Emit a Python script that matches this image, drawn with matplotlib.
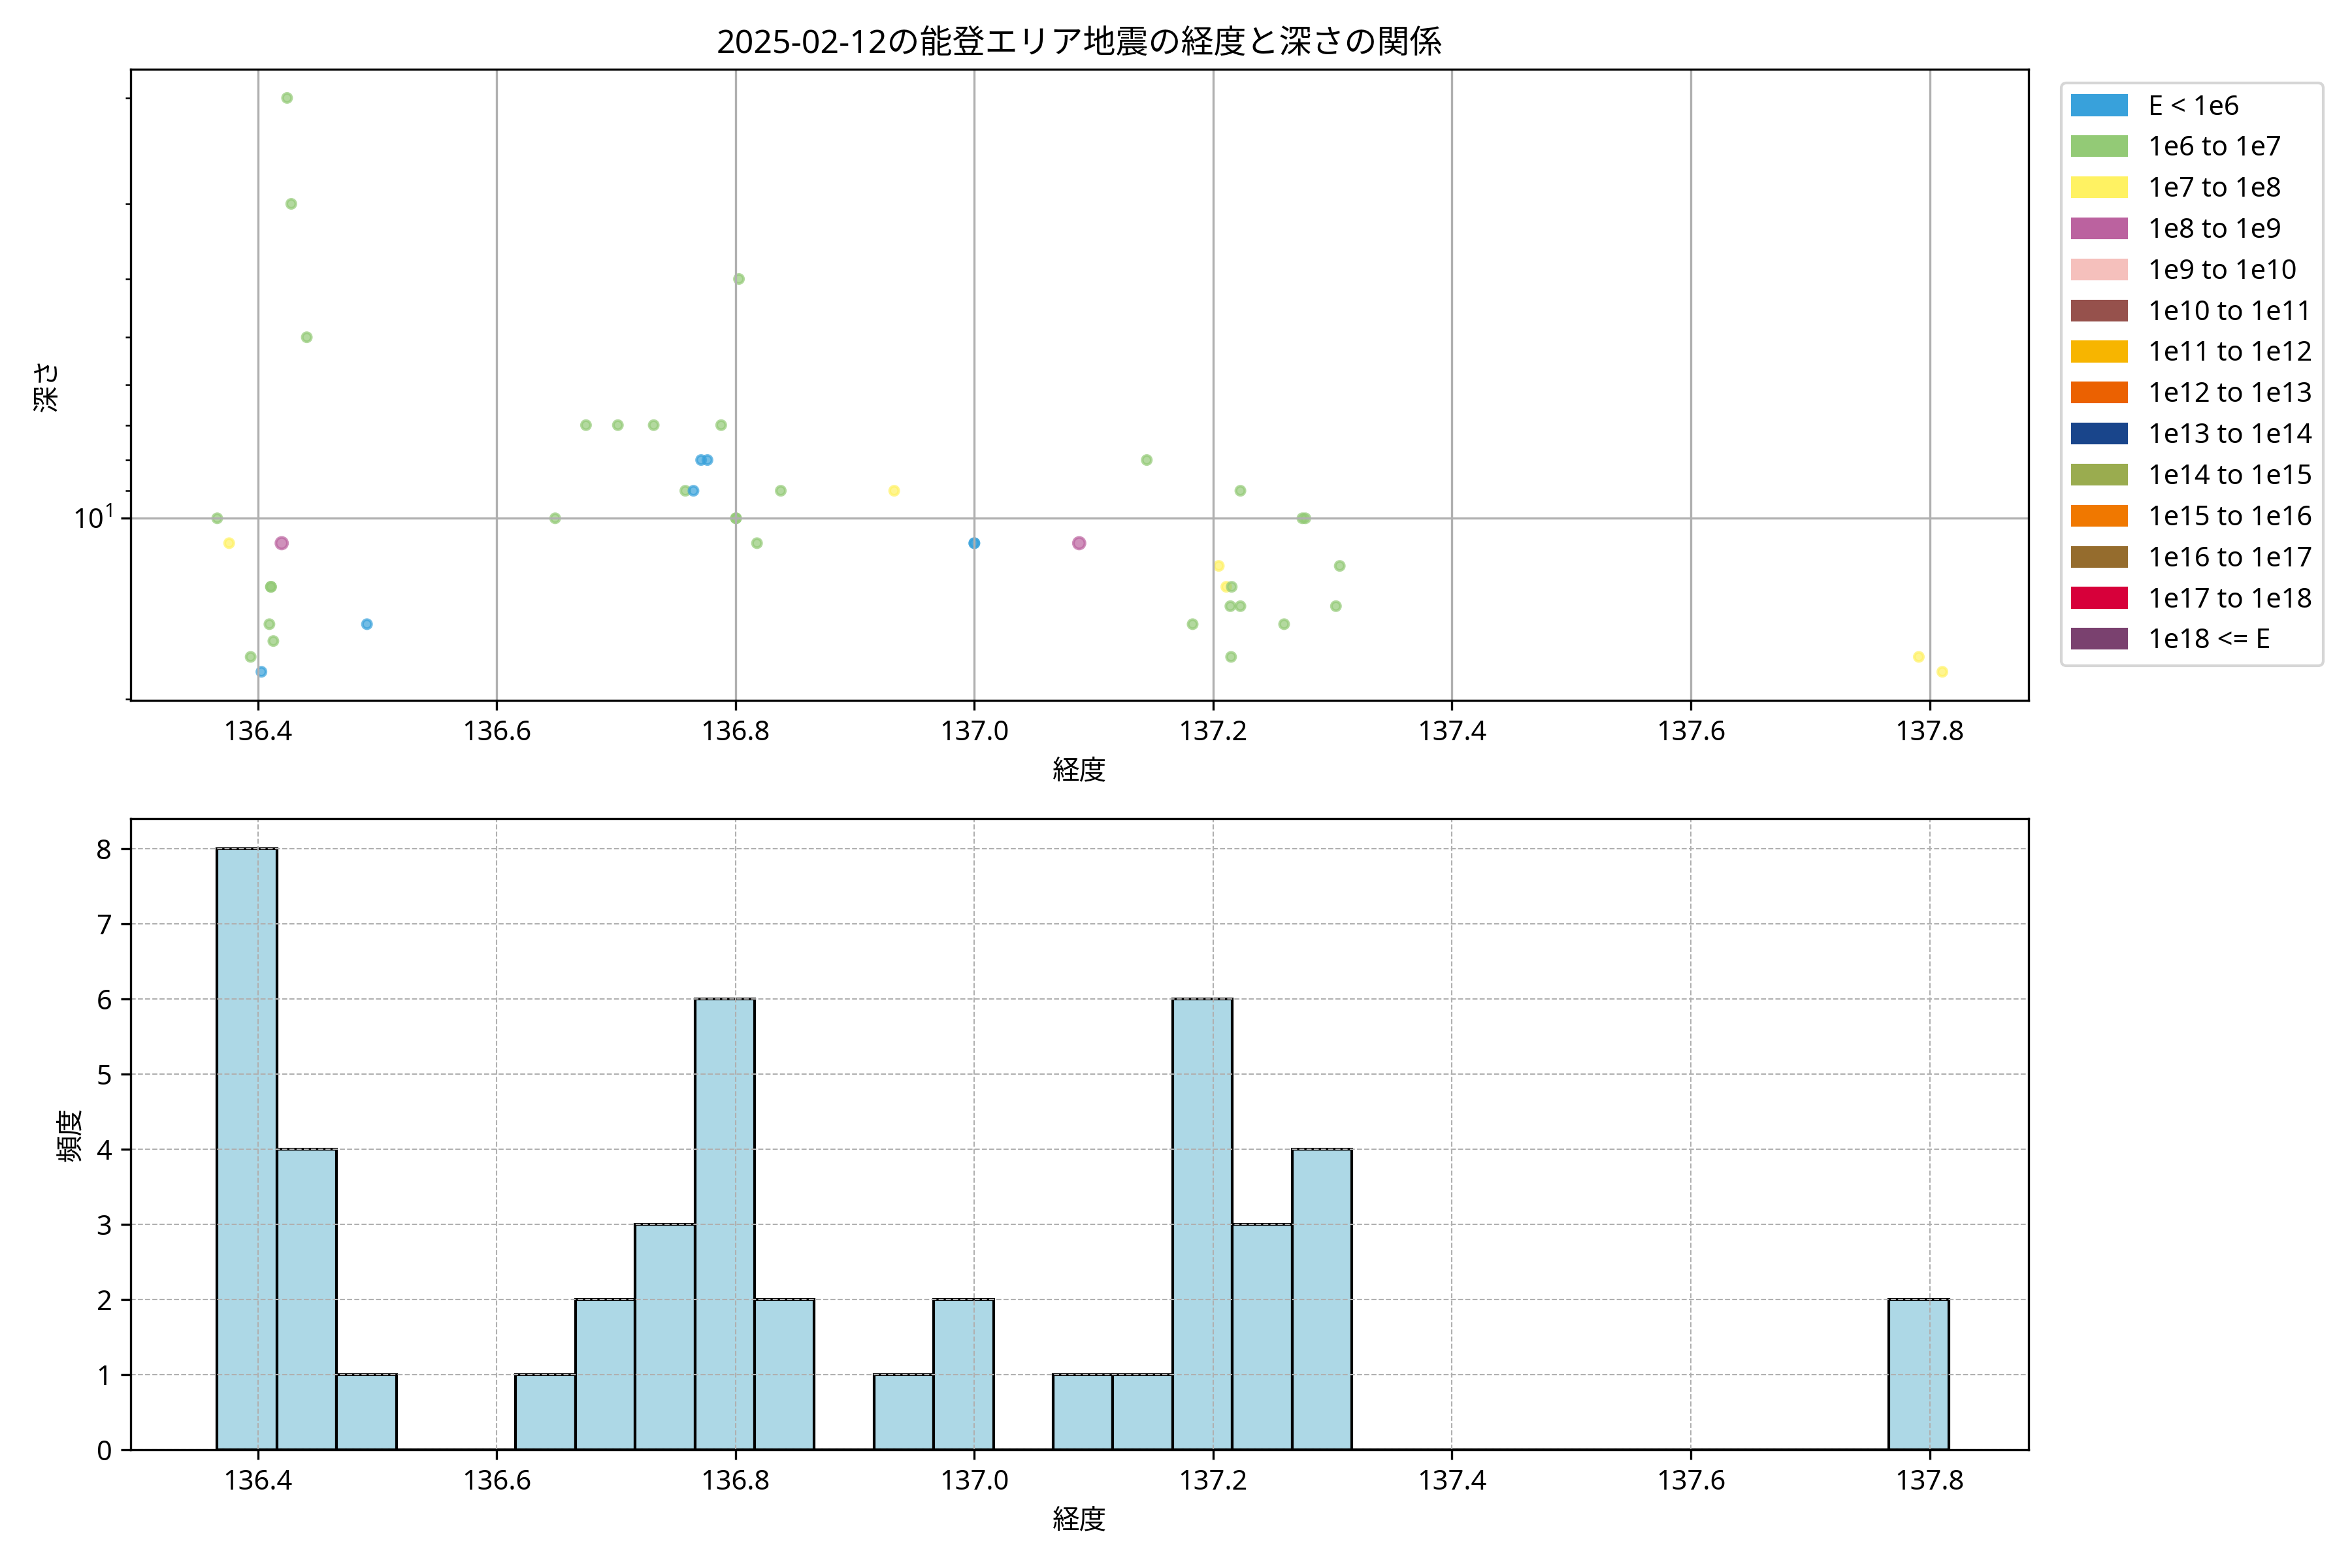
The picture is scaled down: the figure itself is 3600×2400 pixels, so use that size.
"""
能登エリア地震 (2025-02-12) の経度と深さの関係を描く
"""

import numpy as np
import matplotlib
import matplotlib.pyplot as plt
from matplotlib.patches import Patch

matplotlib.use('Agg')
plt.rcParams['font.family'] = ['Noto Sans', 'Noto Sans CJK JP', 'DejaVu Sans']
plt.rcParams['axes.unicode_minus'] = False

TITLE = "2025-02-12の能登エリア地震の経度と深さの関係"

# 震源の経度 / 深さ(km) / エネルギー区分 (0: E<1e6, 1: 1e6-1e7, 2: 1e7-1e8, 3: 1e8-1e9)
longitude = [
    136.366, 136.376, 136.394, 136.403, 136.4097, 136.411, 136.411, 136.413,
    136.420, 136.4245, 136.428, 136.441, 136.4914,
    136.649, 136.6748, 136.7015, 136.7315, 136.758, 136.7648,
    136.7712, 136.7765, 136.788, 136.8004, 136.8004, 136.8029,
    136.818, 136.8379, 136.9329, 137.000, 137.000, 137.0878, 137.1444,
    137.1828, 137.2047, 137.211, 137.2144, 137.2150, 137.2155,
    137.2228, 137.2228, 137.2594, 137.2747, 137.2772, 137.3028, 137.306,
    137.7909, 137.8106,
]
depth = [
    10, 11, 17, 18, 15, 13, 13, 16,
    11, 2, 3, 5, 15,
    10, 7, 7, 7, 9, 9,
    8, 8, 7, 10, 10, 4,
    11, 9, 9, 11, 11, 11, 8,
    15, 12, 13, 14, 17, 13,
    9, 14, 15, 10, 10, 14, 12,
    17, 18,
]
energy_class = [
    1, 2, 1, 0, 1, 1, 1, 1,
    3, 1, 1, 1, 0,
    1, 1, 1, 1, 1, 0,
    0, 0, 1, 1, 1, 1,
    1, 1, 2, 0, 0, 3, 1,
    1, 2, 2, 1, 1, 1,
    1, 1, 1, 1, 1, 1, 1,
    2, 2,
]

# エネルギー区分の凡例
class_labels = [
    'E < 1e6', '1e6 to 1e7', '1e7 to 1e8', '1e8 to 1e9', '1e9 to 1e10',
    '1e10 to 1e11', '1e11 to 1e12', '1e12 to 1e13', '1e13 to 1e14',
    '1e14 to 1e15', '1e15 to 1e16', '1e16 to 1e17', '1e17 to 1e18',
    '1e18 <= E',
]
class_colors = [
    '#38A1DB', '#93CA76', '#FFF262', '#BB629F', '#F5C0BC',
    '#96514C', '#F7B500', '#EB6101', '#19458B',
    '#9AAC4F', '#F07800', '#956C2D', '#D7003A',
    '#7A416F',
]
class_sizes = [11, 11, 11, 18, 22, 26, 30, 34, 38, 42, 46, 50, 54, 58]

BIN_WIDTH = 0.05


def plot_scatter(ax):
    """経度-深さの散布図 (深さは対数・下向き)"""
    lon = np.array(longitude)
    dep = np.array(depth)
    cls = np.array(energy_class)
    colors = [class_colors[c] for c in cls]
    sizes = [class_sizes[c] for c in cls]
    ax.scatter(lon, dep, c=colors, s=sizes, alpha=0.7, linewidths=1.0)
    ax.set_yscale('log')
    ax.invert_yaxis()
    ax.set_title(TITLE)
    ax.set_xlabel('経度')
    ax.set_ylabel('深さ')
    ax.grid(True)

    handles = [Patch(color=col, label=lab) for col, lab in zip(class_colors, class_labels)]
    ax.legend(handles=handles, bbox_to_anchor=(1.01, 1), loc='upper left')


def plot_histogram(ax):
    """経度のヒストグラム"""
    lon = np.array(longitude)
    bins = np.arange(lon.min(), lon.max() + BIN_WIDTH, BIN_WIDTH)
    ax.hist(lon, bins=bins, color='lightblue', edgecolor='black')
    ax.set_xlabel('経度')
    ax.set_ylabel('頻度')
    ax.grid(True, linestyle='--', linewidth=0.5)


def main():
    fig, axes = plt.subplots(2, 1, figsize=(12, 8))
    plot_scatter(axes[0])
    plot_histogram(axes[1])
    axes[1].set_xlim(axes[0].get_xlim())
    plt.tight_layout()
    plt.savefig('out.png', dpi=300)
    plt.close()


if __name__ == "__main__":
    main()
